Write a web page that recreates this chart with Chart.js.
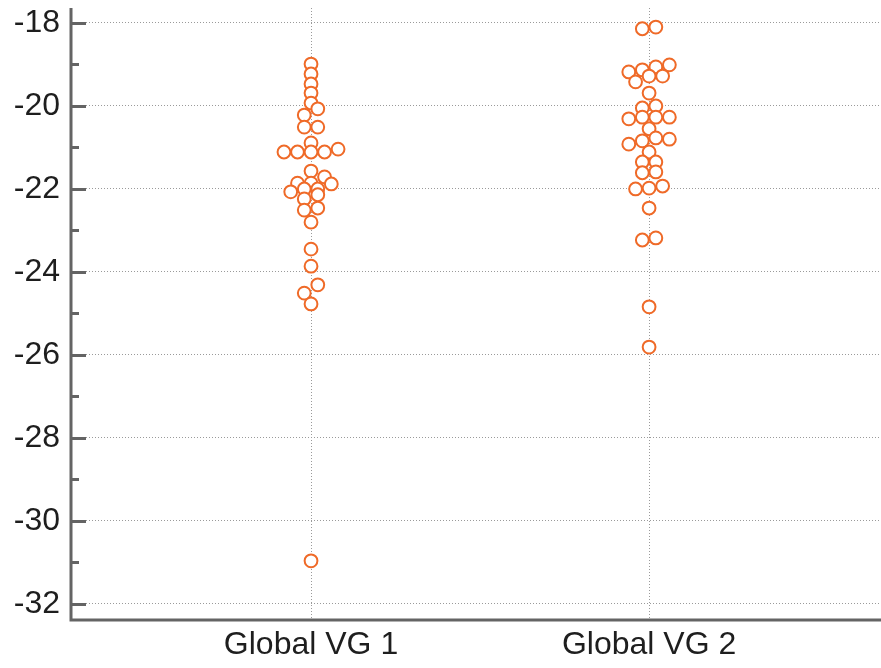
<!DOCTYPE html>
<html>
<head>
<meta charset="utf-8">
<script src="https://cdn.jsdelivr.net/npm/chart.js@4"></script>
<style>
  html, body { margin: 0; padding: 0; background: #fff; }
  #wrap { width: 881px; height: 668px; position: relative; }
</style>
</head>
<body>
<div id="wrap"><canvas id="chart"></canvas></div>
<script>
// ---- data ----
var categories = ['Global VG 1', 'Global VG 2'];

var vg1Values = [-18.99, -19.23, -19.47, -19.69, -19.93, -20.07, -20.22, -20.51, -20.51, -20.89,
    -21.11, -21.11, -21.11, -21.11, -21.04, -21.57, -21.86, -21.86, -21.71, -21.88,
    -22.07, -22.00, -22.00, -22.14, -22.24, -22.51, -22.46, -22.80, -23.45, -23.86,
    -24.31, -24.51, -24.77, -30.96];
// swarm slot of each point (left/right of the category centre)
var vg1Slots = [0, 0, 0, 0, 0, 1, -1, -1, 1, 0,
    -4, -2, 0, 2, 4, 0, -2, 0, 2, 3,
    -3, -1, 1, 1, -1, -1, 1, 0, 0, 0,
    1, -1, 0, 0];

var vg2Values = [-18.14, -18.10, -19.18, -19.13, -19.06, -19.01, -19.42, -19.28, -19.28, -19.69,
    -20.05, -20.00, -20.31, -20.27, -20.27, -20.27, -20.55, -20.92, -20.84, -20.77,
    -20.80, -21.11, -21.35, -21.35, -21.61, -21.59, -22.00, -21.98, -21.93, -22.46,
    -23.23, -23.18, -24.84, -25.81];
var vg2Slots = [-1, 1, -3, -1, 1, 3, -2, 0, 2, 0,
    -1, 1, -3, -1, 1, 3, 0, -3, -1, 1,
    3, 0, -1, 1, -1, 1, -2, 0, 2, 0,
    -1, 1, 0, 0];

var yTickValues = [-32, -31, -30, -29, -28, -27, -26, -25, -24, -23, -22, -21, -20, -19, -18];
var yLabelEvery = 2;

/* ========= BUILD POINTS ========= */
var SLOT = 0.02;   // width of one swarm slot in category units

function toPoints(values, slots, catIndex) {
    return values.map(function (v, i) {
        return { x: catIndex + 1 + slots[i] * SLOT, y: v };
    });
}

/* ========= AXES + TICK MARKS ========= */
var axisPlugin = {
    id: 'axisLines',
    afterDraw: function (chart) {
        var ctx = chart.ctx;
        var a = chart.chartArea;
        var ys = chart.scales.y;
        ctx.save();
        ctx.strokeStyle = '#646464';
        ctx.lineWidth = 3;
        ctx.beginPath();
        ctx.moveTo(a.left, a.top);
        ctx.lineTo(a.left, a.bottom);
        ctx.lineTo(a.right, a.bottom);
        ctx.stroke();
        ys.ticks.forEach(function (t) {
            var py = Math.round(ys.getPixelForValue(t.value)) + 0.5;
            var len = (t.value % yLabelEvery === 0) ? 15 : 8;
            ctx.beginPath();
            ctx.moveTo(a.left, py);
            ctx.lineTo(a.left + len, py);
            ctx.stroke();
        });
        ctx.restore();
    }
};

var labelFont = { family: '"Liberation Sans", Arial, sans-serif', size: 32 };
var ctxEl = document.getElementById('chart');

new Chart(ctxEl, {
    type: 'scatter',
    data: {
        datasets: [
            { label: categories[0], data: toPoints(vg1Values, vg1Slots, 0) },
            { label: categories[1], data: toPoints(vg2Values, vg2Slots, 1) }
        ]
    },
    options: {
        responsive: true,
        maintainAspectRatio: false,
        animation: false,
        layout: { autoPadding: false, padding: { top: 8, right: 0, left: 0, bottom: 0 } },
        elements: {
            point: {
                radius: 6.4,
                borderWidth: 2,
                borderColor: '#ef6a28',
                backgroundColor: '#ffffff',
                pointStyle: 'circle'
            }
        },
        plugins: {
            legend: { display: false },
            tooltip: { enabled: false }
        },
        scales: {
            x: {
                type: 'linear',
                min: 0.29,
                max: 2.686,
                afterBuildTicks: function (scale) {
                    scale.ticks = categories.map(function (c, i) { return { value: i + 1 }; });
                },
                afterFit: function (scale) {
                    scale.height = 48;
                    scale.paddingLeft = 0;
                    scale.paddingRight = 0;
                },
                border: { display: false, dash: [1, 2] },
                grid: { color: '#9a9a9a', lineWidth: 1, drawTicks: false },
                ticks: {
                    padding: 6,
                    color: '#1e1e1e',
                    font: labelFont,
                    maxRotation: 0,
                    callback: function (v) { return categories[v - 1]; }
                }
            },
            y: {
                type: 'linear',
                min: -32.386,
                max: -17.64,
                afterBuildTicks: function (scale) {
                    scale.ticks = yTickValues.map(function (v) { return { value: v }; });
                },
                afterFit: function (scale) {
                    scale.width = 71;
                    scale.paddingTop = 0;
                    scale.paddingBottom = 0;
                },
                border: { display: false, dash: [1, 2] },
                grid: {
                    lineWidth: 1,
                    drawTicks: false,
                    color: function (c) {
                        return (c.tick && c.tick.value % yLabelEvery === 0) ? '#9a9a9a' : 'rgba(0,0,0,0)';
                    }
                },
                ticks: {
                    padding: 11,
                    color: '#1e1e1e',
                    font: labelFont,
                    callback: function (v) { return v % yLabelEvery === 0 ? v : ''; }
                }
            }
        }
    },
    plugins: [axisPlugin]
});
</script>
</body>
</html>
